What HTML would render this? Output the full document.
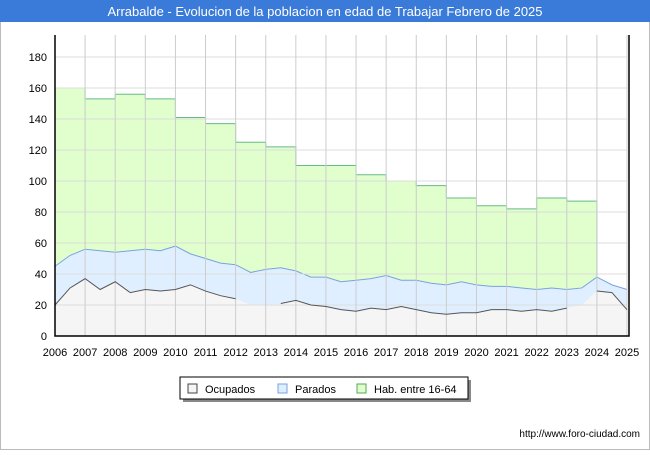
<!DOCTYPE html>
<html><head><meta charset="utf-8"><style>
body{margin:0;width:650px;height:450px;background:#fff;font-family:"Liberation Sans",sans-serif;overflow:hidden}
</style></head><body>
<svg width="650" height="450" xmlns="http://www.w3.org/2000/svg">
<rect x="0.5" y="0.5" width="649" height="449" fill="#fff" stroke="#bbb"/>
<rect x="0" y="0" width="650" height="22" fill="#3a7ad8"/>
<text x="325" y="16" text-anchor="middle" fill="#fff" font-size="13">Arrabalde - Evolucion de la poblacion en edad de Trabajar Febrero de 2025</text>
<g id="plot"></g>
<g>
<rect x="183" y="380" width="288" height="22" fill="#888"/>
<rect x="180" y="377" width="288" height="22" fill="#fff" stroke="#000"/>
<rect x="188" y="384" width="9" height="9" fill="#f5f5f5" stroke="#444"/>
<text x="205" y="393" font-size="11">Ocupados</text>
<rect x="278" y="384" width="9" height="9" fill="#e0efff" stroke="#7aa2e0"/>
<text x="295" y="393" font-size="11">Parados</text>
<rect x="357" y="384" width="9" height="9" fill="#e0ffcc" stroke="#55aa55"/>
<text x="374" y="393" font-size="11">Hab. entre 16-64</text>
</g>
<text x="640" y="437" text-anchor="end" font-size="10">http://www.foro-ciudad.com</text>
</svg>
<script>
const years=[2006,2007,2008,2009,2010,2011,2012,2013,2014,2015,2016,2017,2018,2019,2020,2021,2022,2023,2024,2025];
const yTicks=[0,20,40,60,80,100,120,140,160,180];
const habYears=[2006,2007,2008,2009,2010,2011,2012,2013,2014,2015,2016,2017,2018,2019,2020,2021,2022,2023];
const habValues=[160,153,156,153,141,137,125,122,110,110,104,100,97,89,84,82,89,87];
const habEndValue=49;
const times=[2006,2006.5,2007,2007.5,2008,2008.5,2009,2009.5,2010,2010.5,2011,2011.5,2012,2012.5,2013,2013.5,2014,2014.5,2015,2015.5,2016,2016.5,2017,2017.5,2018,2018.5,2019,2019.5,2020,2020.5,2021,2021.5,2022,2022.5,2023,2023.5,2024,2024.5,2025];
const ocupados=[20,31,37,30,35,28,30,29,30,33,29,26,24,20,20,21,23,20,19,17,16,18,17,19,17,15,14,15,15,17,17,16,17,16,18,20,29,28,17];
const parados=[25,21,19,25,19,27,26,26,28,20,21,21,22,21,23,23,19,18,19,18,20,19,22,17,19,19,19,20,18,15,15,15,13,15,12,11,9,5,13];
const ocupGaps=[[2012.0,2013.3],[2023.4,2024.0]];

const X0=55,X1=627,Y0=336,PXU=1.55;
const x=t=>X0+(t-2006)*(X1-X0)/19;
const y=v=>Y0-v*PXU;
const NS="http://www.w3.org/2000/svg";
const plot=document.getElementById('plot');
function mk(tag,attrs,parent){const e=document.createElementNS(NS,tag);for(const k in attrs)e.setAttribute(k,attrs[k]);(parent||plot).appendChild(e);return e;}
mk('rect',{x:X0,y:35,width:X1-X0+2,height:Y0-35,fill:'#fff'});
// hab area
let d=`M${x(2006)},${y(0)}`;
habYears.forEach((yr,i)=>{d+=` L${x(yr)},${y(habValues[i])} L${x(yr+1)},${y(habValues[i])}`;});
d+=` L${x(2024)},${y(habEndValue)} L${x(2024)},${y(0)} Z`;
let e=mk('path',{d:d,fill:'#e0ffcc',stroke:'#66bb88','stroke-width':1});


// parados area
const tot=times.map((t,i)=>ocupados[i]+parados[i]);
let dp=`M${x(times[0])},${y(0)}`+times.map((t,i)=>` L${x(t)},${y(tot[i])}`).join('')+` L${x(2025)},${y(0)} Z`;
e=mk('path',{d:dp,fill:'#e0efff',stroke:'none'});


e=mk('polyline',{points:times.map((t,i)=>x(t)+','+y(tot[i])).join(' '),fill:'none',stroke:'#7aa2e0','stroke-width':1});


// ocupados area
let dO=`M${x(times[0])},${y(0)}`+times.map((t,i)=>` L${x(t)},${y(ocupados[i])}`).join('')+` L${x(2025)},${y(0)} Z`;
e=mk('path',{d:dO,fill:'#f5f5f5',stroke:'none'});


// grid
yTicks.forEach(v=>{
 mk('line',{x1:X0,x2:X1,y1:y(v),y2:y(v),stroke:'#ddd'});
 const t=mk('text',{x:X0-8,y:y(v)+4,'text-anchor':'end','font-size':11});
 t.textContent=v;
 
 
});
years.forEach(yr=>{
 mk('line',{x1:x(yr),x2:x(yr),y1:35,y2:Y0,stroke:'#ccc'});
 const t=mk('text',{x:x(yr),y:Y0+20,'text-anchor':'middle','font-size':11});
 t.textContent=yr;
 
 
});
// ocupados line with gaps
const inGap=t=>ocupGaps.some(g=>t>g[0]&&t<g[1]);
let seg=[];
const segs=[];
times.forEach((t,i)=>{if(inGap(t)){if(seg.length)segs.push(seg);seg=[];}else seg.push(x(t)+','+y(ocupados[i]));});
if(seg.length)segs.push(seg);
segs.forEach(s=>{
 const l=mk('polyline',{points:s.join(' '),fill:'none',stroke:'#555','stroke-width':1});
 
 
});
mk('path',{d:`M${X0},35 L${X0},${Y0} L${X1+2},${Y0} L${X1+2},35`,fill:'none',stroke:'#000','stroke-width':1.5});
</script>
</body></html>
